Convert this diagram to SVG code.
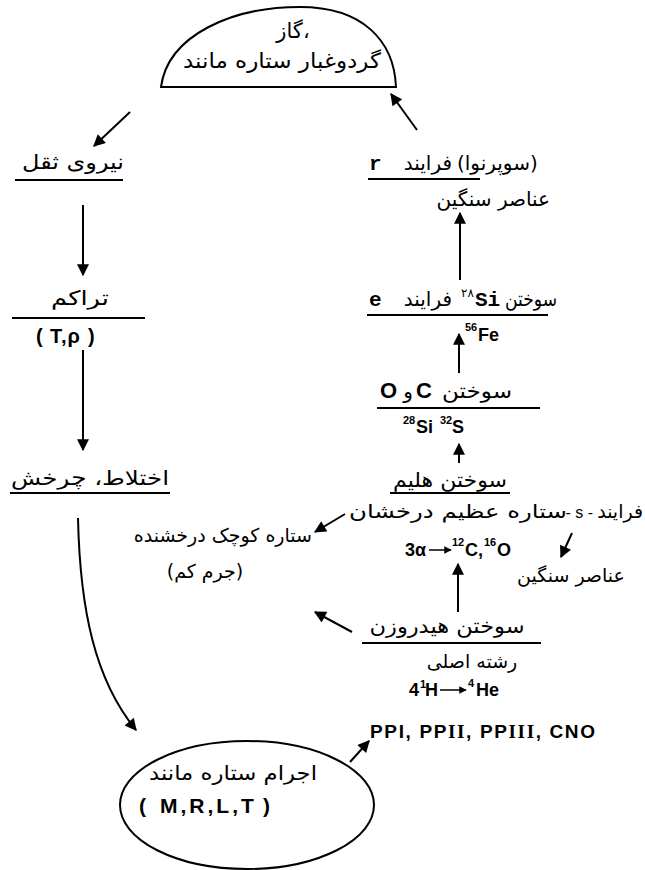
<svg xmlns="http://www.w3.org/2000/svg" width="645" height="870" viewBox="0 0 645 870">
<style>
.fa{font-family:"DejaVu Sans",sans-serif;font-size:20px;fill:#000}
.la{font-family:"Liberation Sans",Arial,sans-serif;font-size:18px;font-weight:bold;fill:#000}
.mo{font-family:"Liberation Mono","Courier New",monospace;font-size:21px;font-weight:bold;fill:#000}
.rn{font-family:"Liberation Serif","Times New Roman",serif;font-weight:bold}
.sup{font-size:11px}
.ln{stroke:#000;stroke-width:2;fill:none}
.ar{stroke:#000;stroke-width:2;fill:none;marker-end:url(#ah)}
.sa{stroke:#000;stroke-width:1.5;fill:none;marker-end:url(#sh)}
</style>
<defs>
<marker id="ah" viewBox="0 0 10 10" refX="9" refY="5" markerWidth="7" markerHeight="6" orient="auto" markerUnits="strokeWidth"><path d="M0,0 L10,5 L0,10 z" fill="#000"/></marker>
<marker id="sh" viewBox="0 0 10 10" refX="9" refY="5" markerWidth="5" markerHeight="5" orient="auto" markerUnits="strokeWidth"><path d="M0,0 L10,5 L0,10 z" fill="#000"/></marker>
</defs>
<rect width="645" height="870" fill="#fff"/>

<g id="n-gas">
<path class="ln" d="M161,87 C168,35 232,7 300,7 C362,7 394,40 396,87 Z"/>
<text class="fa" x="293" y="38" text-anchor="middle" style="font-size:21px">گاز،</text>
<text class="fa" x="282" y="68" text-anchor="middle" style="font-size:21px" textLength="198" lengthAdjust="spacingAndGlyphs">گردوغبار ستاره مانند</text>
</g>

<g id="n-gravity">
<text class="fa" x="73" y="169" text-anchor="middle" textLength="102" lengthAdjust="spacingAndGlyphs">نیروی ثقل</text>
<path class="ln" d="M15,180 H123"/>
</g>

<g id="n-accum">
<text class="fa" x="80" y="305" text-anchor="middle" textLength="58" lengthAdjust="spacingAndGlyphs">تراکم</text>
<path class="ln" d="M12,318 H145"/>
<text class="la" x="36" y="343" style="font-size:20px">(</text>
<text class="la" x="50" y="343" style="font-size:20px;letter-spacing:1px">T,ρ</text>
<text class="la" x="88" y="343" style="font-size:20px">)</text>
</g>

<g id="n-mix">
<text class="fa" x="90" y="485" text-anchor="middle" textLength="158" lengthAdjust="spacingAndGlyphs">اختلاط، چرخش</text>
<path class="ln" d="M10,493 H170"/>
</g>

<g id="n-stars">
<ellipse class="ln" cx="247" cy="805" rx="127" ry="64"/>
<text class="fa" x="233" y="780" text-anchor="middle" textLength="168" lengthAdjust="spacingAndGlyphs">اجرام ستاره مانند</text>
<text class="la" x="139" y="813" style="font-size:21px">(</text>
<text class="la" x="160" y="813" style="font-size:21px;letter-spacing:3px">M,R,L,T</text>
<text class="la" x="263" y="813" style="font-size:21px">)</text>
</g>

<g id="n-pp">
<text class="la" x="370" y="738" style="font-size:19px" textLength="225" lengthAdjust="spacing">PPI, PP<tspan class="rn">II</tspan>, PP<tspan class="rn">III</tspan>, CNO</text>
</g>

<g id="n-hburn">
<text class="fa" x="447" y="633" text-anchor="middle" textLength="155" lengthAdjust="spacingAndGlyphs">سوختن هیدروزن</text>
<path class="ln" d="M362,643 H541"/>
<text class="fa" x="472" y="668" text-anchor="middle" style="font-size:19px">رشته اصلی</text>
<text class="la" x="409" y="696">4</text>
<text class="la sup" x="420" y="688">1</text>
<text class="la" x="425" y="696">H</text>
<path class="sa" d="M440,690 H466"/>
<text class="la sup" x="468" y="687">4</text>
<text class="la" x="476" y="696">He</text>
</g>

<g id="n-small">
<text class="fa" x="312" y="542" text-anchor="end" style="font-size:19px">ستاره کوچک درخشنده</text>
<text class="fa" x="205" y="578" text-anchor="middle" style="font-size:19px">(جرم کم)</text>
</g>

<g id="n-heburn">
<text class="fa" x="450" y="487" text-anchor="middle" textLength="114" lengthAdjust="spacingAndGlyphs">سوختن هلیم</text>
<path class="ln" d="M390,493 H510"/>
<text class="fa" x="643" y="518" text-anchor="end" style="font-size:19px">فرایند</text>
<text class="la" x="593" y="518" text-anchor="end" style="font-size:16px;font-weight:normal">- s -</text>
<text class="fa" x="567" y="518" text-anchor="end" style="font-size:19px" textLength="218" lengthAdjust="spacingAndGlyphs">ستاره عظیم درخشان</text>
<text class="la" x="405" y="556">3α</text>
<path class="sa" d="M429,550 H451"/>
<text class="la sup" x="452" y="546">12</text>
<text class="la" x="465" y="556">C,</text>
<text class="la sup" x="484" y="546">16</text>
<text class="la" x="497" y="556">O</text>
</g>

<g id="n-heavy2">
<text class="fa" x="517" y="582" style="font-size:19px">عناصر سنگین</text>
</g>

<g id="n-co">
<text class="la" x="380" y="398" style="font-size:22px">O</text>
<text class="fa" x="408" y="398" text-anchor="middle">و</text>
<text class="la" x="416" y="398" style="font-size:22px">C</text>
<text class="fa" x="442" y="398" textLength="70" lengthAdjust="spacingAndGlyphs">سوختن</text>
<path class="ln" d="M377,408 H540"/>
<text class="la sup" x="403" y="424">28</text>
<text class="la" x="416" y="433">Si</text>
<text class="la sup" x="440" y="424">32</text>
<text class="la" x="452" y="433">S</text>
</g>

<g id="n-si">
<text class="mo" x="369" y="306">e</text>
<text class="fa" x="452" y="306" text-anchor="end">فرایند</text>
<text class="fa" x="461" y="297" style="font-size:12px">۲۸</text>
<text class="mo" x="475" y="306">Si</text>
<text class="fa" x="505" y="306" textLength="52" lengthAdjust="spacingAndGlyphs">سوختن</text>
<path class="ln" d="M367,315 H548"/>
<text class="la sup" x="465" y="331">56</text>
<text class="la" x="478" y="341">Fe</text>
</g>

<g id="n-r">
<text class="mo" x="369" y="170">r</text>
<text class="fa" x="452" y="170" text-anchor="end">فرایند</text>
<text class="fa" x="457" y="170">(سوپرنوا)</text>
<path class="ln" d="M368,179 H480"/>
<text class="fa" x="550" y="206" text-anchor="end">عناصر سنگین</text>
</g>

<g id="connectors">
<path class="ar" d="M130,112 L94,146"/>
<path class="ar" d="M83,205 V275"/>
<path class="ar" d="M83,350 V450"/>
<path class="ar" d="M78,518 C80,610 95,680 136,730"/>
<path class="ar" d="M350,762 L369,741"/>
<path class="ar" d="M458,612 V564"/>
<path class="ar" d="M352,632 L315,612"/>
<path class="ar" d="M345,514 L315,532"/>
<path class="ar" d="M572,533 L561,557"/>
<path class="ar" d="M459,463 V444"/>
<path class="ar" d="M459,373 V334"/>
<path class="ar" d="M460,280 V213"/>
<path class="ar" d="M417,130 L391,94"/>
</g>
</svg>
